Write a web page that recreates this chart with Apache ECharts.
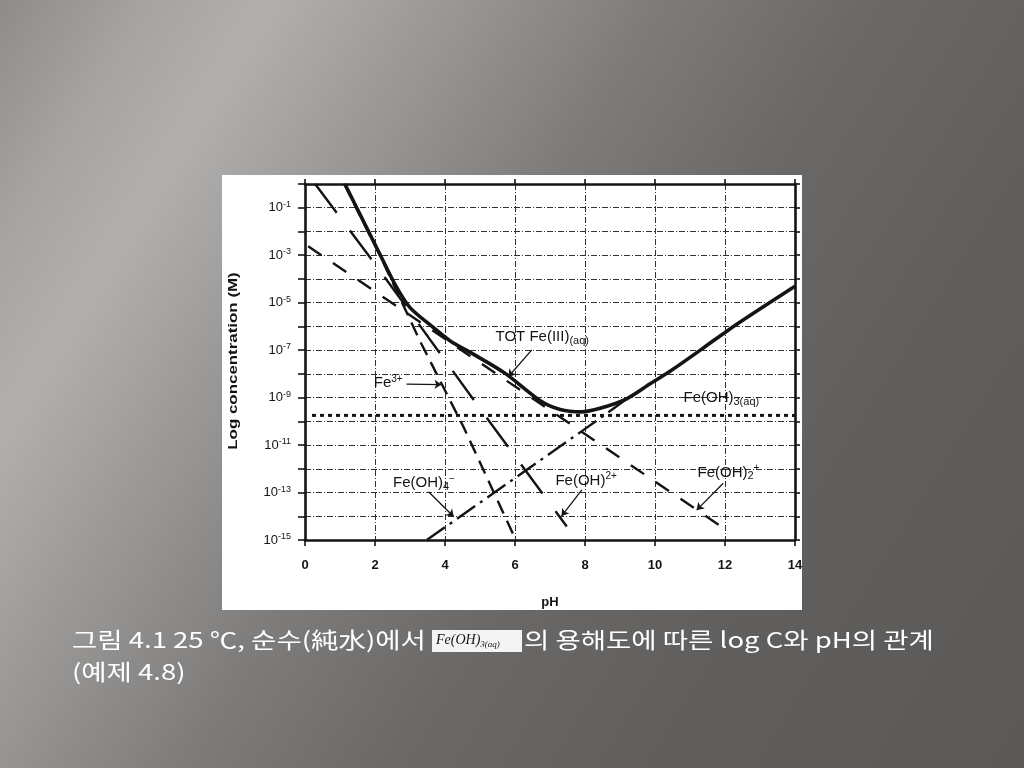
<!DOCTYPE html>
<html><head><meta charset="utf-8">
<script src="https://cdn.jsdelivr.net/npm/echarts@6/dist/echarts.min.js"></script>
<style>
html,body{margin:0;padding:0;width:1024px;height:768px;overflow:hidden;}
body{background:linear-gradient(122deg,#8e8c8a 0%,#a6a4a2 10%,#b2b0ae 18%,#9a9896 30%,#7e7c7a 44%,#6b6967 58%,#615f5d 75%,#5b5957 100%);}
#c{width:1024px;height:768px;}
</style></head><body><div id="c"></div>
<script>
// ---- data (pH, log10 concentration) ----
const xTicks = [0, 2, 4, 6, 8, 10, 12, 14];
const yTickExps = [-1, -3, -5, -7, -9, -11, -13, -15];

const totPH  = [1.14, 2.14, 2.62, 3.0, 3.67, 4.14, 4.87, 5.72, 6.71, 7.29, 7.9, 8.43, 9.19, 9.86, 10.43, 11.38, 12.05, 12.81, 14.0];
const totLog = [0, -2.96, -4.36, -5.21, -6.05, -6.6, -7.22, -7.98, -9.12, -9.5, -9.6, -9.45, -9.05, -8.42, -7.89, -6.91, -6.2, -5.45, -4.31];

const fe3PH  = [1.12, 2.14, 3.29, 4.52, 6.0];
const fe3Log = [0, -3.0, -6.63, -10.21, -14.92];

const feOH2PH  = [0.29, 2.09, 3.52, 5.29, 7.48];      // Fe(OH)2+
const feOH2Log = [0, -3.55, -6.45, -10.05, -14.43];

const feOH2pPH  = [0.09, 2.57, 7.19, 11.95];          // Fe(OH)2 +
const feOH2pLog = [-2.62, -5.1, -9.72, -14.49];

const feOH3PH  = [0.2, 14.0];                         // Fe(OH)3(aq)
const feOH3Log = [-9.75, -9.75];

const feOH4PH  = [3.48, 7.95, 8.43, 9.15];            // Fe(OH)4-
const feOH4Log = [-15.0, -10.37, -9.87, -9.1];

const zip = (a, b) => a.map((v, i) => [v, b[i]]);

// ---- styling ----
const FONT = '"Liberation Sans", Arial, sans-serif';
const INK = '#141414';
const KFONT = '22px "Noto Sans CJK KR"';

const labelRich = {
  a:   {fontFamily: FONT, fontSize: 15, color: INK, lineHeight: 18},
  sub: {fontFamily: FONT, fontSize: 11, color: INK, lineHeight: 18, verticalAlign: 'bottom', padding: [6, 0, 0, 0]},
  sup: {fontFamily: FONT, fontSize: 10, color: INK, lineHeight: 18, verticalAlign: 'top'}
};

const notes = [
  {coord: [5.43, -6.45], text: '{a|TOT Fe(III)}{sub|(aq)}'},
  {coord: [1.95, -8.38], text: '{a|Fe}{sup|3+}'},
  {coord: [10.8, -9.02], text: '{a|Fe(OH)}{sub|3(aq)}'},
  {coord: [2.5, -12.6], text: '{a|Fe(OH)}{sub|4}{sup|−}'},
  {coord: [7.14, -12.5], text: '{a|Fe(OH)}{sup|2+}'},
  {coord: [11.2, -12.15], text: '{a|Fe(OH)}{sub|2}{sup|+}'}
];
const arrows = [
  [[6.48, -6.99], [5.81, -8.12]],
  [[2.9, -8.43], [3.9, -8.45]],
  [[3.53, -12.97], [4.25, -14.02]],
  [[7.91, -12.89], [7.33, -13.99]],
  [[11.95, -12.61], [11.19, -13.74]]
];

const splitStyle = {color: '#333', width: 1, type: [6, 2, 1, 2]};
const axisLineStyle = {color: INK, width: 2.6};

const chart = echarts.init(document.getElementById('c'), null, {renderer: 'canvas'});
chart.setOption({
  animation: false,
  backgroundColor: 'transparent',
  grid: {left: 305, top: 184, width: 490, height: 356, containLabel: false},
  graphic: [
    {type: 'rect', z: -100, silent: true, shape: {x: 222, y: 175, width: 580, height: 435}, style: {fill: '#ffffff'}},
    {type: 'text', z: 10, x: 233, y: 361, rotation: Math.PI / 2, scaleX: 1.3,
     style: {text: 'Log concentration (M)', font: 'bold 13px "Liberation Sans", Arial, sans-serif', fill: INK, align: 'center', verticalAlign: 'middle'}},
    {type: 'text', z: 10, x: 72, y: 640, scaleX: 1.25, style: {text: '그림 4.1 25 ℃, 순수(純水)에서', font: KFONT, fill: '#ffffff', verticalAlign: 'middle'}},
    {type: 'rect', z: 10, shape: {x: 432, y: 630, width: 90, height: 22}, style: {fill: '#f4f4f4'}},
    {type: 'text', z: 11, x: 436, y: 640, style: {
      text: '{i|Fe(OH)}{s|3(aq)}', verticalAlign: 'middle',
      rich: {i: {fontFamily: '"Liberation Serif", serif', fontStyle: 'italic', fontSize: 14, fill: '#111', lineHeight: 18},
             s: {fontFamily: '"Liberation Serif", serif', fontStyle: 'italic', fontSize: 9, fill: '#111', lineHeight: 18, verticalAlign: 'bottom'}}}},
    {type: 'text', z: 10, x: 524, y: 640, scaleX: 1.25, style: {text: '의 용해도에 따른 log C와 pH의 관계', font: KFONT, fill: '#ffffff', verticalAlign: 'middle'}},
    {type: 'text', z: 10, x: 72, y: 672, scaleX: 1.25, style: {text: '(예제 4.8)', font: KFONT, fill: '#ffffff', verticalAlign: 'middle'}}
  ],
  xAxis: [{
    type: 'value', min: xTicks[0], max: xTicks[xTicks.length - 1], interval: 2, position: 'bottom',
    axisLine: {show: true, onZero: false, lineStyle: axisLineStyle},
    axisTick: {show: true, length: 6, lineStyle: {color: INK, width: 1.6}},
    axisLabel: {margin: 19, fontFamily: FONT, fontSize: 13, fontWeight: 'bold', color: INK},
    splitLine: {show: true, lineStyle: splitStyle},
    name: 'pH', nameLocation: 'middle', nameGap: 56,
    nameTextStyle: {fontFamily: FONT, fontSize: 13, fontWeight: 'bold', color: INK}
  }, {
    type: 'value', min: 0, max: 14, interval: 2, position: 'top',
    axisLine: {show: true, onZero: false, lineStyle: axisLineStyle},
    axisTick: {show: true, length: 5, lineStyle: {color: INK, width: 1.6}},
    axisLabel: {show: false}, splitLine: {show: false}
  }],
  yAxis: [{
    type: 'value', min: -15, max: 0, interval: 1, position: 'left',
    axisLine: {show: true, onZero: false, lineStyle: axisLineStyle},
    axisTick: {show: true, length: 7, lineStyle: {color: INK, width: 1.6}},
    axisLabel: {
      margin: 14,
      formatter: v => yTickExps.indexOf(v) >= 0 ? '{b|10}{s|' + v + '}' : '',
      rich: {
        b: {fontFamily: FONT, fontSize: 13, color: INK, lineHeight: 16},
        s: {fontFamily: FONT, fontSize: 9, color: INK, lineHeight: 16, verticalAlign: 'top'}
      }
    },
    splitLine: {show: true, lineStyle: splitStyle}
  }, {
    type: 'value', min: -15, max: 0, interval: 1, position: 'right',
    axisLine: {show: true, onZero: false, lineStyle: axisLineStyle},
    axisTick: {show: true, length: 5, lineStyle: {color: INK, width: 1.6}},
    axisLabel: {show: false}, splitLine: {show: false}
  }],
  series: [
    {name: 'Fe(OH)3(aq)', type: 'line', data: zip(feOH3PH, feOH3Log), symbol: 'none', z: 3,
     lineStyle: {color: INK, width: 3, type: [4, 4]}},
    {name: 'Fe3+', type: 'line', data: zip(fe3PH, fe3Log), symbol: 'none', z: 3,
     lineStyle: {color: INK, width: 2.4, type: [14, 8]}},
    {name: 'Fe(OH)2+', type: 'line', data: zip(feOH2PH, feOH2Log), symbol: 'none', z: 3,
     lineStyle: {color: INK, width: 2.4, type: [36, 22]}},
    {name: 'Fe(OH)2 +', type: 'line', data: zip(feOH2pPH, feOH2pLog), symbol: 'none', z: 3,
     lineStyle: {color: INK, width: 2.4, type: [16, 14]}},
    {name: 'Fe(OH)4-', type: 'line', data: zip(feOH4PH, feOH4Log), symbol: 'none', z: 3,
     lineStyle: {color: INK, width: 2.4, type: [22, 6, 3, 6]}},
    {name: 'TOT Fe(III)', type: 'line', data: zip(totPH, totLog), symbol: 'none', smooth: 0.3, z: 5,
     lineStyle: {color: INK, width: 3.6},
     markLine: {
       silent: true, symbol: ['none', 'arrow'], symbolSize: 7, animation: false,
       label: {show: false},
       lineStyle: {color: INK, width: 1.3, type: 'solid'},
       data: arrows.map(a => [{coord: a[0]}, {coord: a[1]}])
     },
     markPoint: {
       silent: true, symbol: 'circle', symbolSize: 1, itemStyle: {color: 'rgba(0,0,0,0)'},
       data: notes.map(n => ({coord: n.coord, label: {show: true, position: 'right', distance: 0, formatter: n.text, rich: labelRich}}))
     }}
  ]
});
</script></body></html>
